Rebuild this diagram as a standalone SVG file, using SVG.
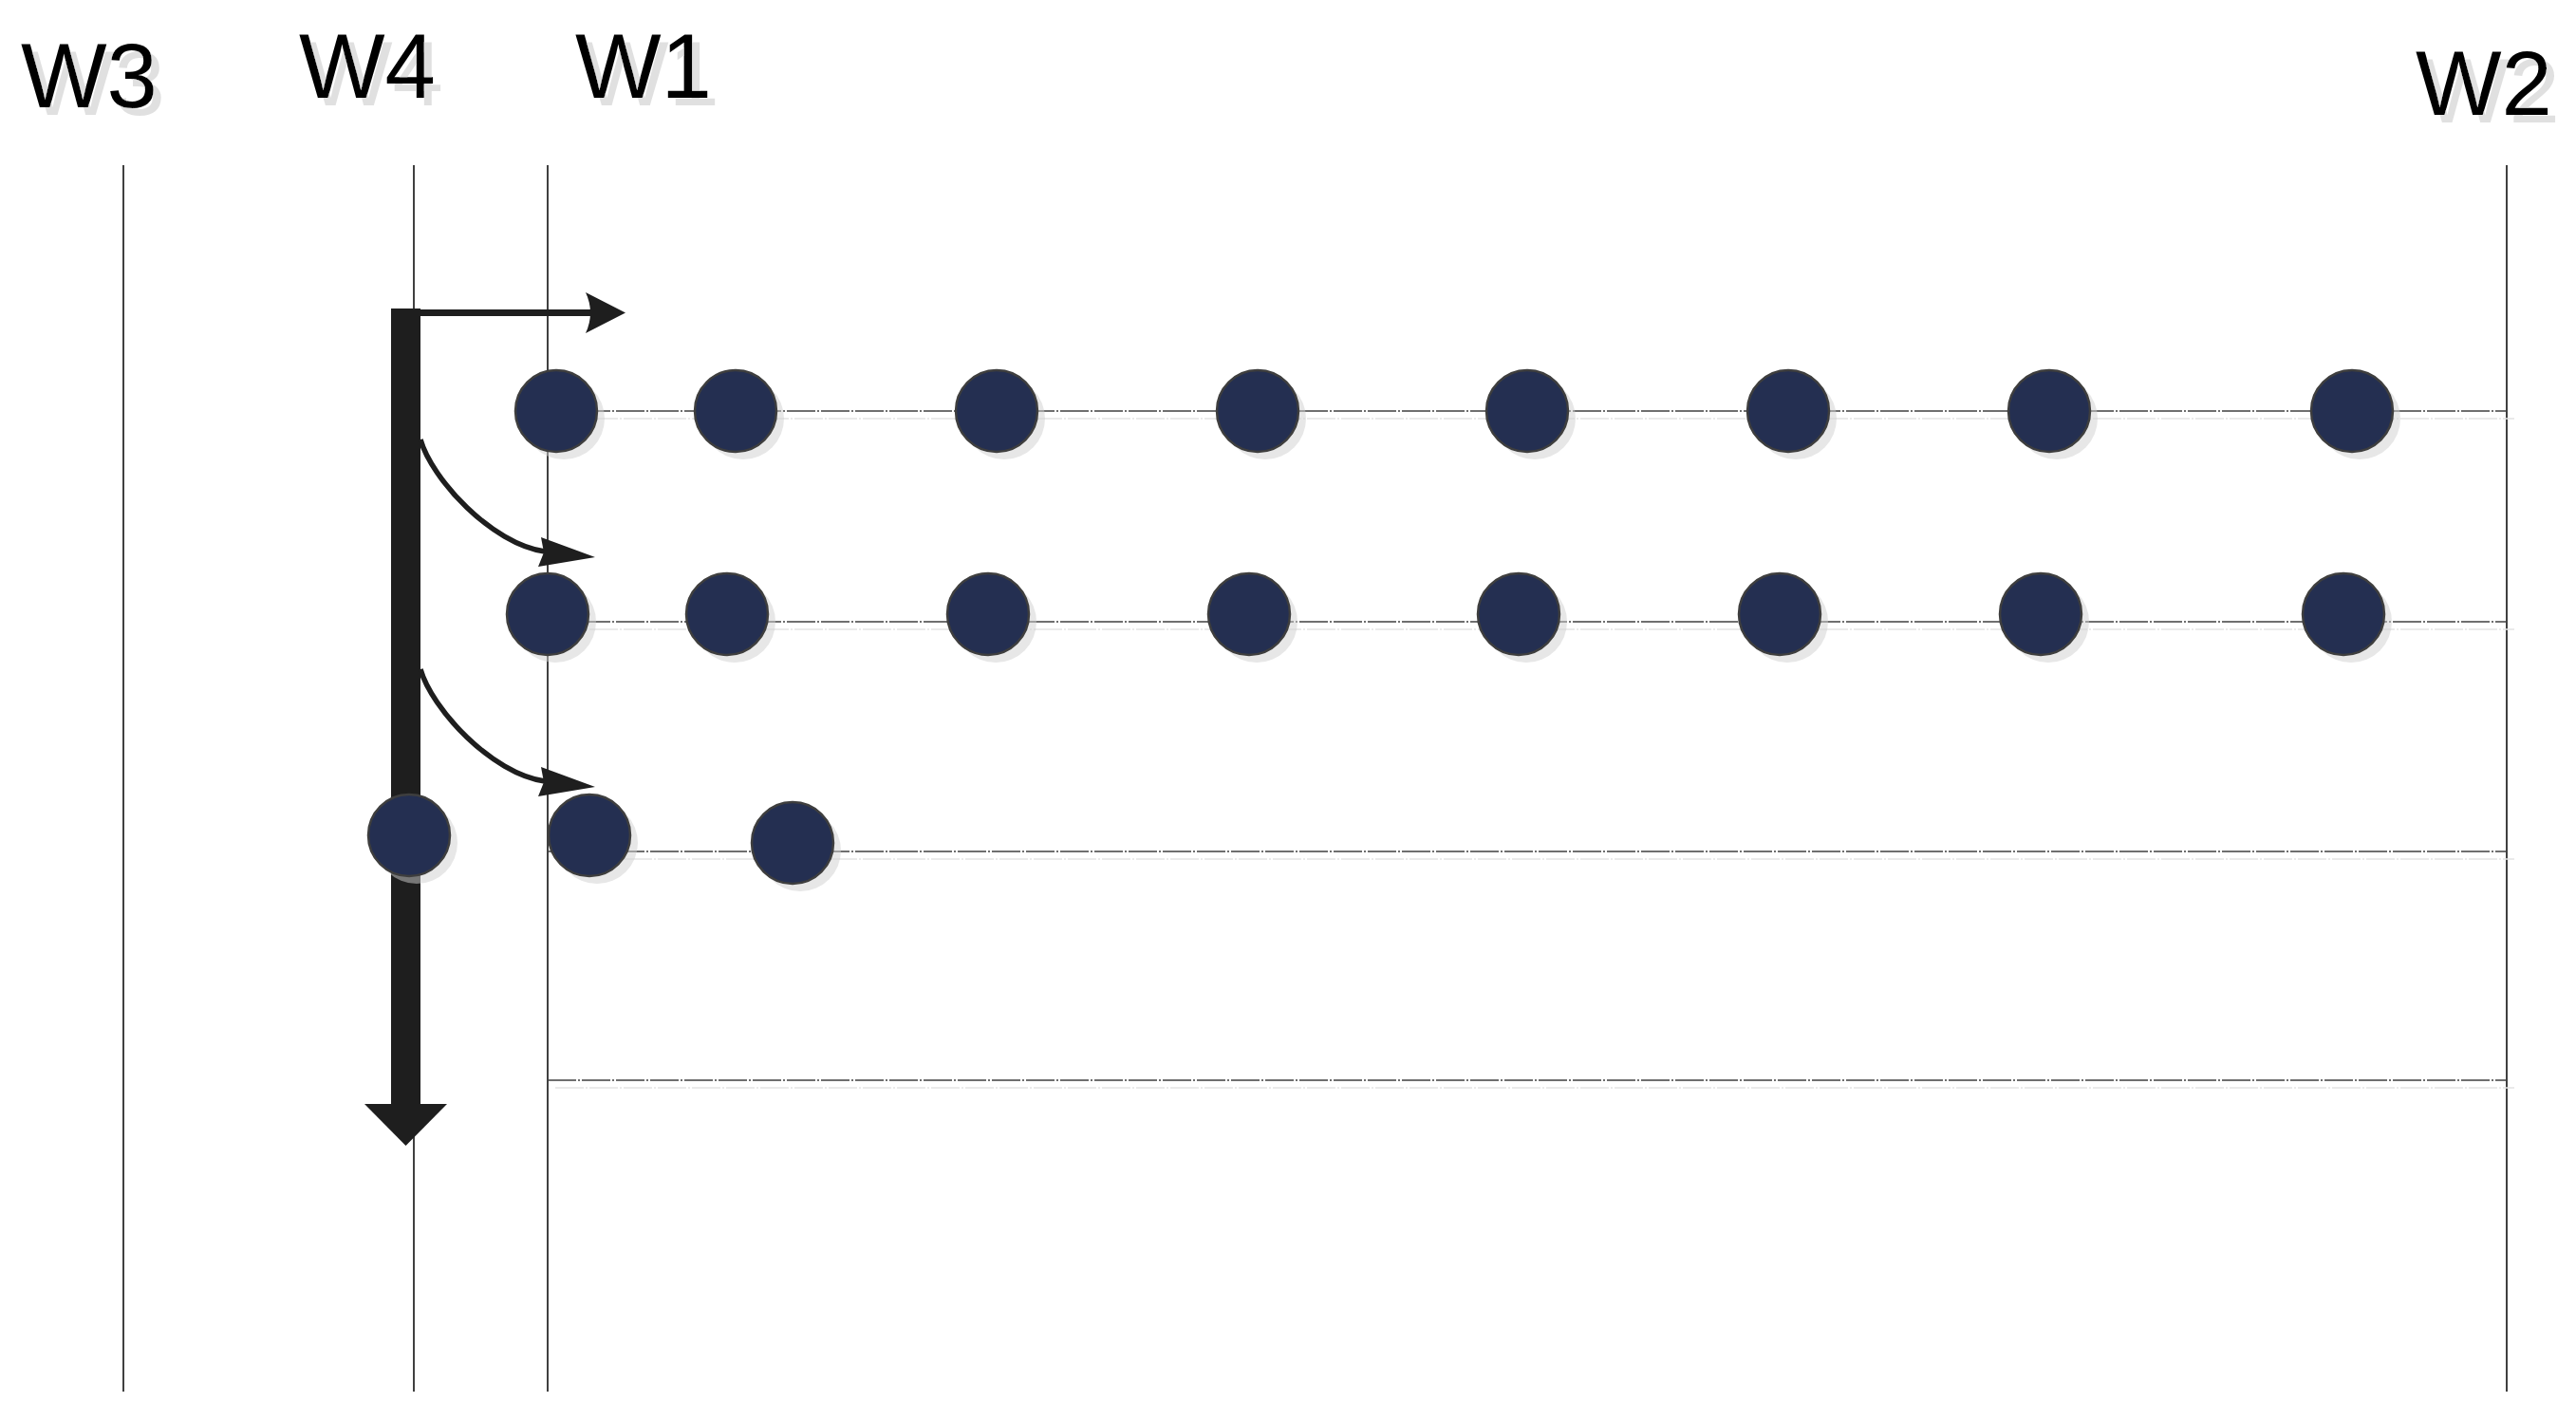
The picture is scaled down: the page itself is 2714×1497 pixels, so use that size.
<svg xmlns="http://www.w3.org/2000/svg" width="2714" height="1497" viewBox="0 0 2714 1497">
<defs>
<style>
.lbl{font-family:"Liberation Sans",Arial,sans-serif;font-size:96px;fill:#000;filter:url(#tshadow)}
.wall{stroke:#404040;stroke-width:2;fill:none}
.row{stroke:#404040;stroke-width:1.6;fill:none;stroke-dasharray:30 2 2 2}
.rows{stroke:#e3e3e3;stroke-width:1.6;fill:none;stroke-dasharray:30 2 2 2}
.dot{fill:#242f51;stroke:#3e3e3e;stroke-width:2.5}
.dsh{fill:#d0d0d0;opacity:0.5}
.arr{stroke:#1e1e1e;fill:none}
.head{fill:#1e1e1e}
</style>
<filter id="tshadow" x="-10%" y="-10%" width="130%" height="130%">
<feFlood flood-color="#e0e0e0" result="c"/>
<feComposite in="c" in2="SourceAlpha" operator="in" result="s"/>
<feOffset in="s" dx="8" dy="8" result="so"/>
<feMerge><feMergeNode in="so"/><feMergeNode in="SourceGraphic"/></feMerge>
</filter>
<g id="ball">
<circle class="dsh" cx="8" cy="8" r="43"/>
<circle class="dot" cx="0" cy="0" r="43"/>
</g>
</defs>
<rect width="2714" height="1497" fill="#fff"/>

<g id="labels">
<text id="label-W3" class="lbl" x="22" y="113">W3</text>
<text id="label-W4" class="lbl" x="315" y="103">W4</text>
<text id="label-W1" class="lbl" x="606" y="103">W1</text>
<text id="label-W2" class="lbl" x="2545" y="121">W2</text>
</g>

<g id="walls">
<line id="wall-W3" class="wall" x1="130" y1="174" x2="130" y2="1466"/>
<line id="wall-W4" class="wall" x1="436" y1="174" x2="436" y2="1466"/>
<line id="wall-W1" class="wall" x1="577" y1="174" x2="577" y2="1466"/>
<line id="wall-W2" class="wall" x1="2641" y1="174" x2="2641" y2="1466"/>
</g>

<g id="rows">
<line class="rows" x1="585" y1="441" x2="2649" y2="441"/>
<line class="row" x1="577" y1="433" x2="2641" y2="433"/>
<line class="rows" x1="585" y1="663" x2="2649" y2="663"/>
<line class="row" x1="577" y1="655" x2="2641" y2="655"/>
<line class="rows" x1="585" y1="905" x2="2649" y2="905"/>
<line class="row" x1="577" y1="897" x2="2641" y2="897"/>
<line class="rows" x1="585" y1="1146" x2="2649" y2="1146"/>
<line class="row" x1="577" y1="1138" x2="2641" y2="1138"/>
</g>

<g id="connectors">
<rect id="bar" class="head" x="412" y="325" width="31" height="839"/>
<polygon class="head" points="384,1163 471,1163 427.5,1207"/>
<line class="arr" x1="442" y1="329.5" x2="625" y2="329.5" stroke-width="7"/>
<path class="head" d="M617,308 L659,329.5 L617,351 Q627,329.5 617,308 Z"/>
<path class="arr" stroke-width="5.5" d="M443,463 C455,505 518,573 574,581"/>
<path class="head" d="M570,566 L627,587 L567,597 L573,582 Z"/>
<path class="arr" stroke-width="5.5" d="M443,705 C455,747 518,815 574,823"/>
<path class="head" d="M570,808 L627,829 L567,839 L573,824 Z"/>
</g>

<g id="nodes">
<use id="n1-1" href="#ball" x="586" y="433"/>
<use id="n1-2" href="#ball" x="775" y="433"/>
<use id="n1-3" href="#ball" x="1050" y="433"/>
<use id="n1-4" href="#ball" x="1325" y="433"/>
<use id="n1-5" href="#ball" x="1609" y="433"/>
<use id="n1-6" href="#ball" x="1884" y="433"/>
<use id="n1-7" href="#ball" x="2159" y="433"/>
<use id="n1-8" href="#ball" x="2478" y="433"/>
<use id="n2-1" href="#ball" x="577" y="647"/>
<use id="n2-2" href="#ball" x="766" y="647"/>
<use id="n2-3" href="#ball" x="1041" y="647"/>
<use id="n2-4" href="#ball" x="1316" y="647"/>
<use id="n2-5" href="#ball" x="1600" y="647"/>
<use id="n2-6" href="#ball" x="1875" y="647"/>
<use id="n2-7" href="#ball" x="2150" y="647"/>
<use id="n2-8" href="#ball" x="2469" y="647"/>
<use id="n3-0" href="#ball" x="431" y="880"/>
<use id="n3-1" href="#ball" x="621" y="880"/>
<use id="n3-2" href="#ball" x="835" y="888"/>
</g>
</svg>
